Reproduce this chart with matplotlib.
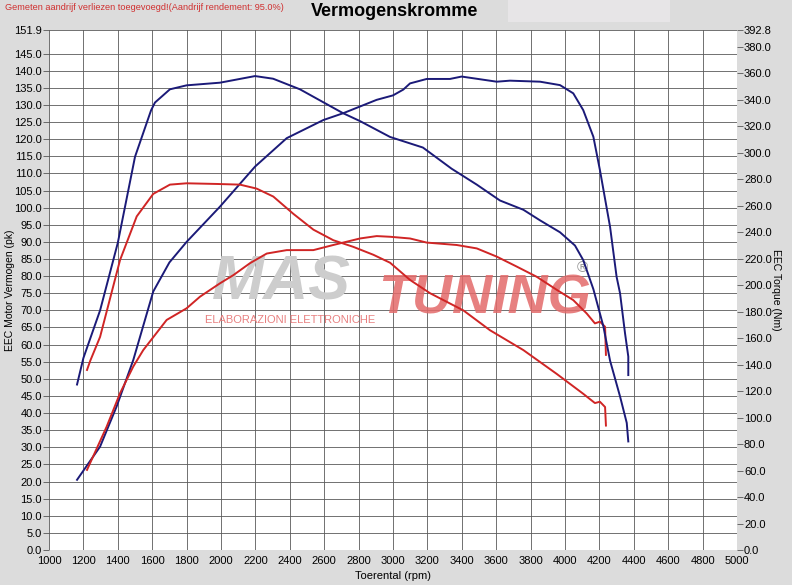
import matplotlib
matplotlib.use("Agg")
import matplotlib.pyplot as plt
import numpy as np

plt.rcParams["font.family"] = ["Liberation Sans", "DejaVu Sans"]

# Blue run (tuned): torque in Nm, power in pk
blue_torque_rpm = [1163, 1200, 1297, 1400, 1500, 1593, 1616, 1703, 1800, 1994, 2198, 2303, 2459,
                   2709, 2808, 2983, 3174, 3341, 3487, 3622, 3758, 3855, 3971, 4058, 4106, 4165,
                   4223, 4262, 4320, 4359, 4368]
blue_torque_nm = [125, 145, 181, 232, 297, 332, 338, 348, 351, 353, 358, 356, 348,
                  330, 324, 312, 304, 288, 276, 264, 257, 249, 240, 230, 219, 197,
                  169, 143, 116, 96, 82]

blue_power_rpm = [1163, 1297, 1393, 1490, 1606, 1700, 1800, 1994, 2198, 2382, 2595, 2711, 2905,
                  3000, 3060, 3099, 3196, 3331, 3399, 3603, 3680, 3855, 3971, 4048, 4106, 4165,
                  4203, 4262, 4300, 4320, 4349, 4368, 4368]
blue_power_pk = [20.5, 30.2, 41.9, 55.5, 75.5, 84.0, 90.0, 100.3, 112.0, 120.3, 125.6, 127.6, 131.5,
                 132.8, 134.5, 136.3, 137.6, 137.6, 138.3, 136.8, 137.1, 136.8, 135.8, 133.4, 128.5,
                 120.7, 111.0, 94.4, 79.8, 75.0, 63.3, 56.5, 51.1]

# Red run (stock)
red_torque_rpm = [1221, 1240, 1297, 1413, 1510, 1606, 1703, 1800, 1975, 2110, 2207, 2304, 2420,
                  2537, 2653, 2769, 2886, 2983, 3099, 3215, 3409, 3564, 3758, 3952, 4106, 4174,
                  4203, 4233, 4238]
red_torque_nm = [136, 143, 161, 219, 252, 269, 276, 277, 276.5, 276, 273, 267, 254,
                 242, 234, 229, 223, 217, 204, 194, 181, 166, 151, 133, 118, 111,
                 112, 108, 94]

red_power_rpm = [1221, 1335, 1413, 1490, 1548, 1684, 1800, 1878, 1994, 2072, 2169, 2266, 2382,
                 2537, 2653, 2808, 2905, 2983, 3099, 3196, 3370, 3487, 3603, 3719, 3836, 3952,
                 4048, 4126, 4174, 4203, 4233, 4238]
red_power_pk = [23.4, 36.0, 45.8, 53.6, 58.4, 67.2, 70.6, 74.0, 77.9, 80.3, 83.8, 86.6, 87.6,
                87.6, 89.1, 91.0, 91.7, 91.5, 91.0, 89.8, 89.1, 88.1, 85.7, 82.8, 79.8, 76.0,
                73.0, 69.1, 66.2, 66.7, 65.2, 57.0]

left_ticks = list(np.arange(0, 150, 5)) + [151.9]
right_ticks = list(np.arange(0, 400, 20)) + [392.8]
x_ticks = list(range(1000, 5001, 200))

BLUE = "#1b1a78"
RED = "#d02525"
BG = "#dcdcdc"

fig = plt.figure(figsize=(7.92, 5.85), dpi=100, facecolor=BG)
ax = fig.add_axes([49 / 792, 35 / 585, 688 / 792, 520 / 585])
ax2 = ax.twinx()

ax.set_xlim(1000, 5000)
ax.set_ylim(0, 151.9)
ax2.set_ylim(0, 392.8)

ax.set_xticks(x_ticks)
ax.set_yticks(left_ticks)
ax.set_yticklabels([f"{v:.1f}" for v in left_ticks])
ax2.set_yticks(right_ticks)
ax2.set_yticklabels([f"{v:.1f}" for v in right_ticks])

ax.grid(True, color="#5a5a5a", linewidth=0.6)
ax.set_axisbelow(True)
for a in (ax, ax2):
    for s in a.spines.values():
        s.set_visible(False)
ax.tick_params(axis="y", labelsize=8, length=4, width=0.6, color="#555555", pad=1)
ax.tick_params(axis="x", labelsize=8, length=0, pad=4)
ax2.tick_params(axis="y", labelsize=8, length=4, width=0.6, color="#555555", pad=1)

# watermark (behind the curves)
def px(x, y):
    return (x - 49) / 688, (550 - y) / 520

ax.text(*px(212, 299), "MAS", transform=ax.transAxes, fontsize=45, fontweight="bold",
        fontstyle="italic", color="#cdcdcd", zorder=1, ha="left", va="baseline")
ax.text(*px(378, 314), "TUNING", transform=ax.transAxes, fontsize=40, fontweight="bold",
        fontstyle="italic", color="#e36a6a", alpha=0.85, zorder=1, ha="left", va="baseline")
ax.text(*px(205, 323), "ELABORAZIONI ELETTRONICHE", transform=ax.transAxes, fontsize=8,
        color="#e88080", zorder=1, ha="left", va="baseline")
ax.text(*px(582, 268), "\u00ae", transform=ax.transAxes, fontsize=11, color="#999999",
        zorder=1, ha="center", va="center")

ax.plot(blue_power_rpm, blue_power_pk, color=BLUE, linewidth=1.4, zorder=3)
ax.plot(red_power_rpm, red_power_pk, color=RED, linewidth=1.4, zorder=3)
ax2.plot(blue_torque_rpm, blue_torque_nm, color=BLUE, linewidth=1.4, zorder=3)
ax2.plot(red_torque_rpm, red_torque_nm, color=RED, linewidth=1.4, zorder=3)

# header
fig.patches.append(plt.Rectangle((508 / 792, 1 - 22 / 585), 162 / 792, 22 / 585,
                                 transform=fig.transFigure, facecolor="#e7e5e7",
                                 edgecolor="none", zorder=0))
fig.text(395 / 792, 1 - 12 / 585, "Vermogenskromme", fontsize=13, fontweight="bold",
         ha="center", va="center")
fig.text(5 / 792, 1 - 8 / 585, "Gemeten aandrijf verliezen toegevoegd!(Aandrijf rendement: 95.0%)",
         fontsize=6.6, color="#d03030", ha="left", va="center")

fig.text(10 / 792, 1 - 290 / 585, "EEC Motor Vermogen (pk)", fontsize=7.5, rotation=90,
         ha="center", va="center")
fig.text(776 / 792, 1 - 290 / 585, "EEC Torque (Nm)", fontsize=7.5, rotation=270,
         ha="center", va="center")
fig.text(393 / 792, 1 - 576 / 585, "Toerental (rpm)", fontsize=8, ha="center", va="center")

fig.savefig("out.png", dpi=100, facecolor=BG)
